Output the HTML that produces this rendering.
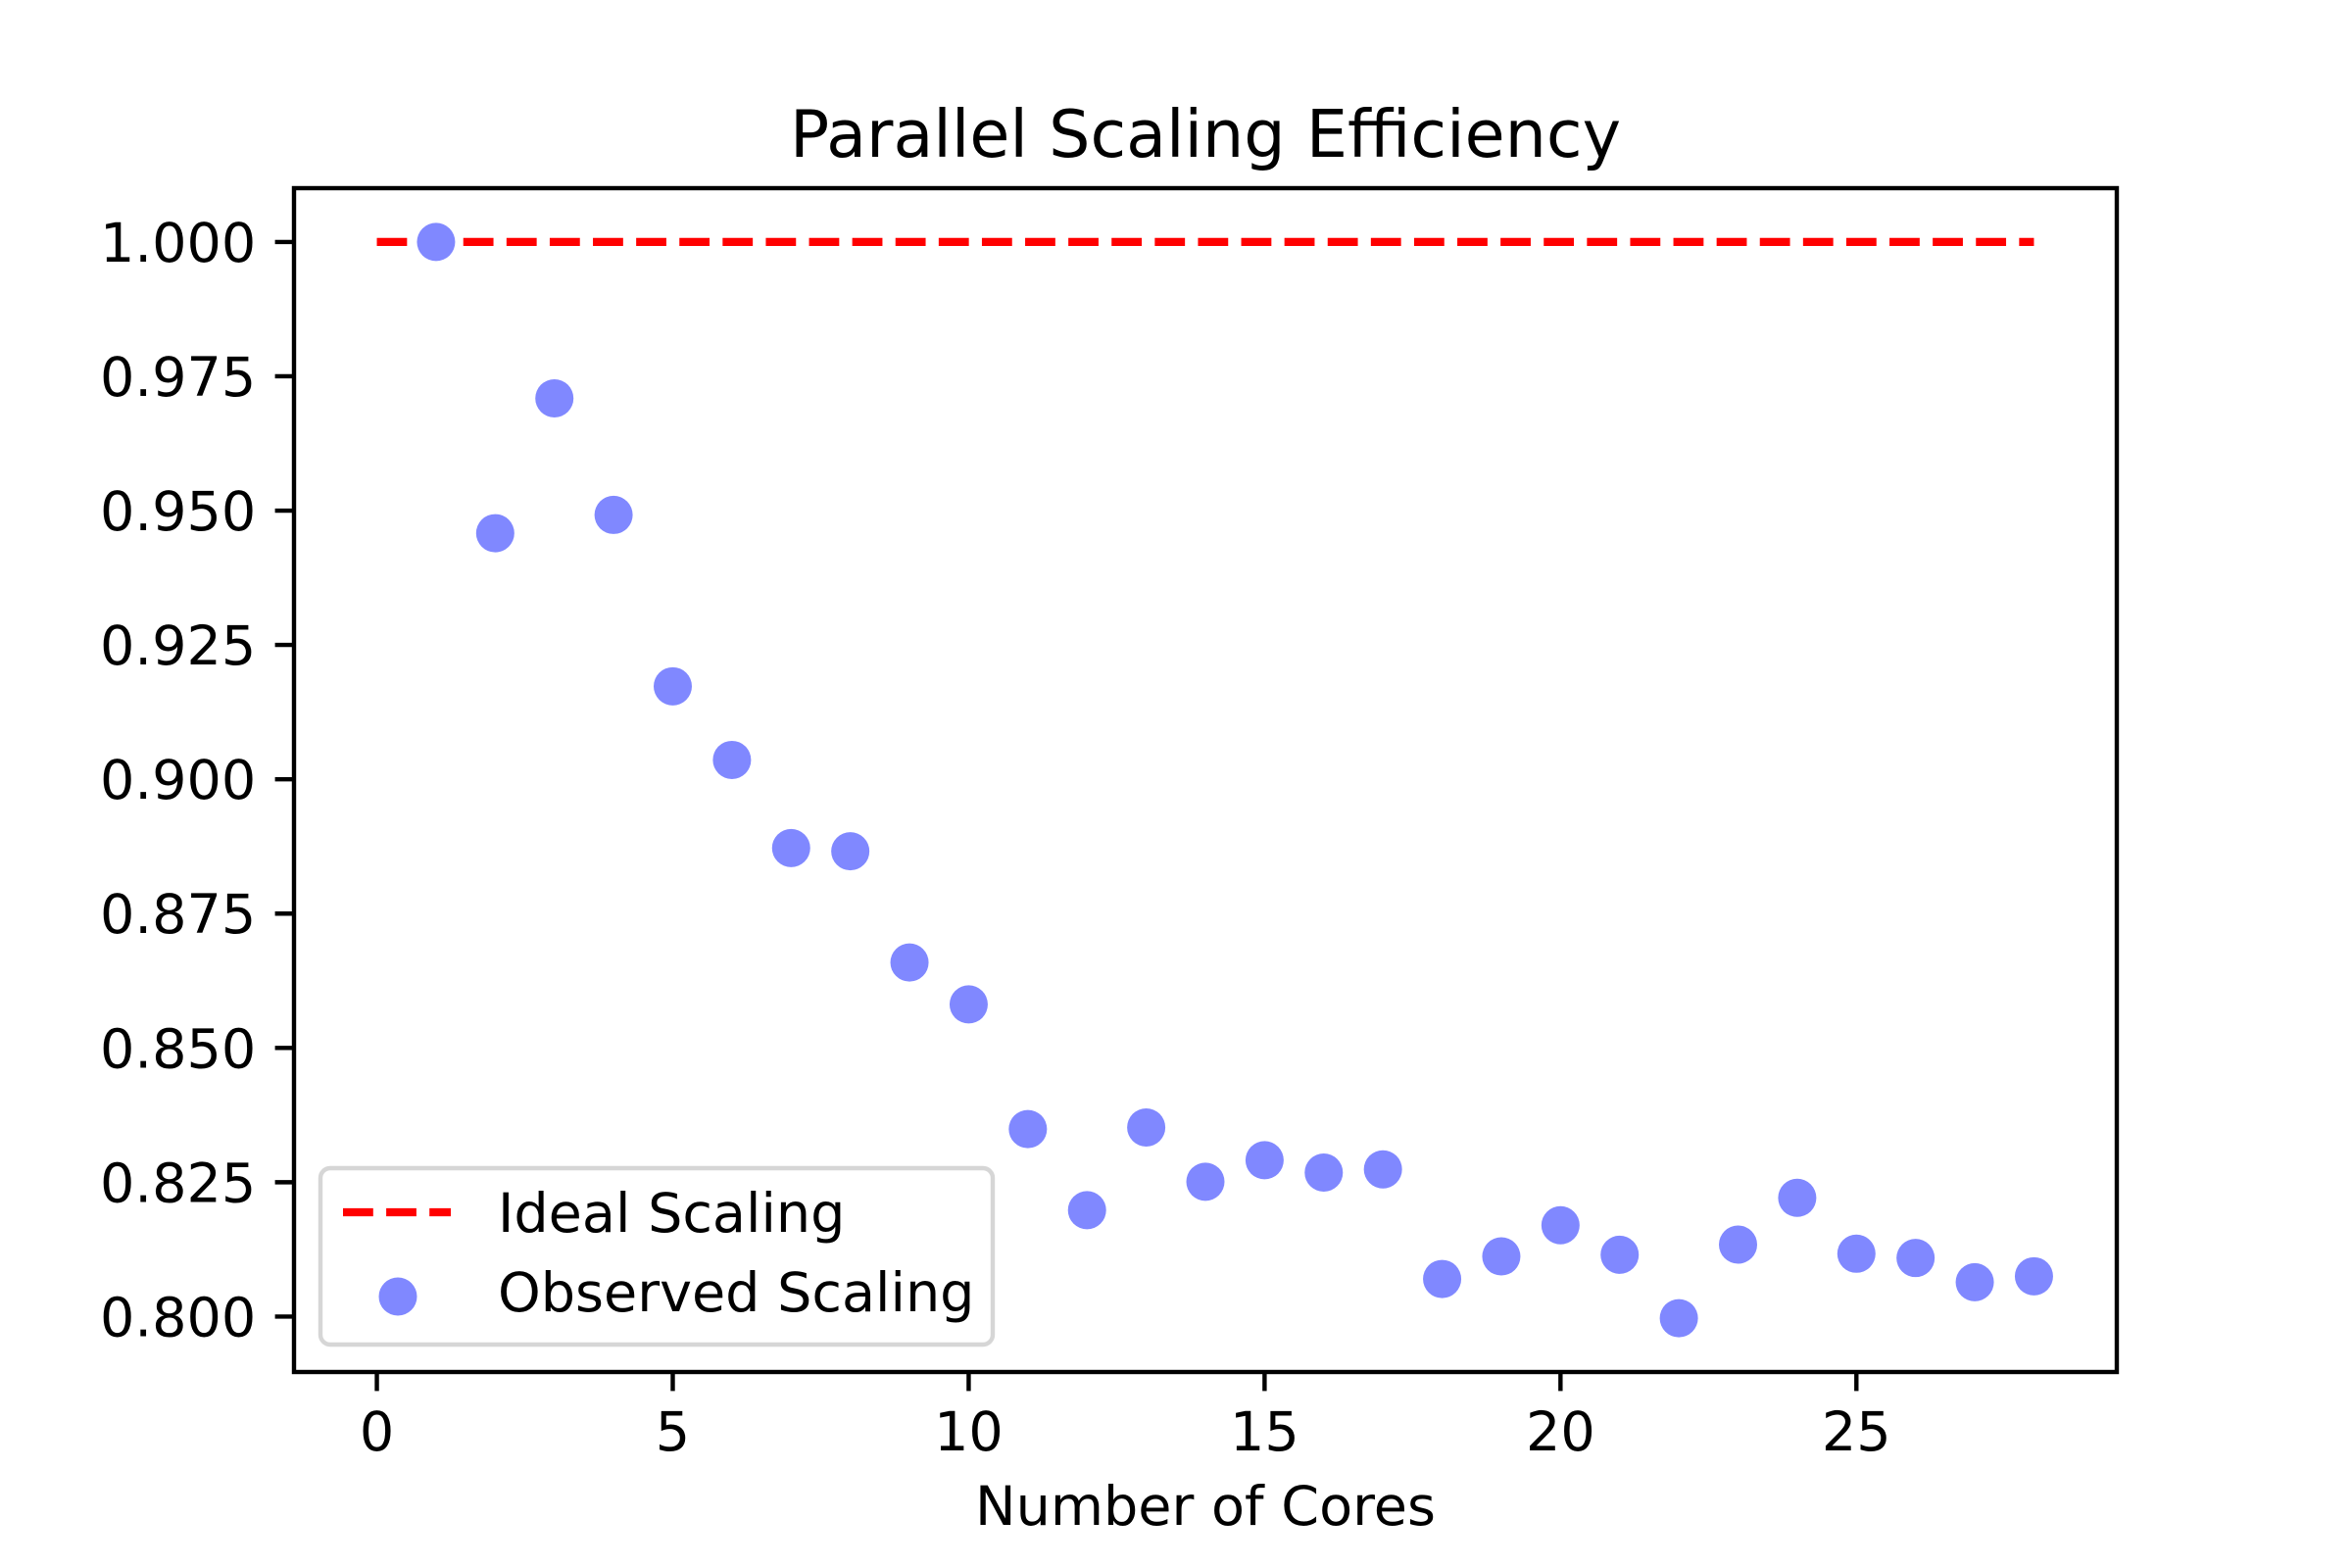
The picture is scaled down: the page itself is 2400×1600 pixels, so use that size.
<!DOCTYPE html>
<html><head><meta charset="utf-8"><style>
html,body{margin:0;padding:0;background:#fff;}
svg{display:block;font-family:"DejaVu Sans","Liberation Sans",sans-serif;}
</style></head><body>
<svg id="chart" width="2400" height="1600" viewBox="0 0 2400 1600">
<rect width="2400" height="1600" fill="#fff"/>
<text x="1230" y="160" font-size="66.7" text-anchor="middle">Parallel Scaling Efficiency</text>
<g id="plot"></g>
<text x="1230" y="1556" font-size="55.6" text-anchor="middle">Number of Cores</text>
</svg>
<script>
const cores = [1,2,3,4,5,6,7,8,9,10,11,12,13,14,15,16,17,18,19,20,21,22,23,24,25,26,27,28];
const efficiency = [1.000,0.9458,0.9709,0.9492,0.9173,0.9036,0.8872,0.8866,0.8659,0.8581,0.8349,0.8198,0.8352,0.8251,0.8291,0.8268,0.8274,0.8070,0.8112,0.8170,0.8115,0.7997,0.8134,0.8221,0.8117,0.8109,0.8064,0.8075];
const idealX = [0,28];
const idealY = [1.0,1.0];
const xTicks = [0,5,10,15,20,25];
const yTicks = [0.800,0.825,0.850,0.875,0.900,0.925,0.950,0.975,1.000];

const L=300,R=2160,T=192,B=1400;
const allX=cores.concat(idealX), allY=efficiency.concat(idealY);
let x0=Math.min(...allX),x1=Math.max(...allX),y0=Math.min(...allY),y1=Math.max(...allY);
const mx=(x1-x0)*0.05,my=(y1-y0)*0.05;
x0-=mx;x1+=mx;y0-=my;y1+=my;
const sx=v=>L+(v-x0)/(x1-x0)*(R-L);
const sy=v=>B-(v-y0)/(y1-y0)*(B-T);
const NS='http://www.w3.org/2000/svg';
const g=document.getElementById('plot');
function mk(tag,attrs,parent){const e=document.createElementNS(NS,tag);for(const k in attrs)e.setAttribute(k,attrs[k]);(parent||g).appendChild(e);return e;}

const il=mk('line',{x1:sx(idealX[0]),y1:sy(idealY[0]),x2:sx(idealX[1]),y2:sy(idealY[1]),stroke:'#ff0000','stroke-width':8.3,'stroke-dasharray':'30.8 13.3'});



cores.forEach((c,i)=>{
  const p=mk('circle',{cx:sx(c),cy:sy(efficiency[i]),r:19.5,fill:'#8088ff'});
  
  
});

const fr=mk('rect',{x:L,y:T,width:R-L,height:B-T,fill:'none',stroke:'#000','stroke-width':4.4});



xTicks.forEach(t=>{
  const x=sx(t);
  const tk=mk('line',{x1:x,y1:B,x2:x,y2:B+19.4,stroke:'#000','stroke-width':4.4});
  
  
  const tx=mk('text',{x:x,y:B+19.4+19.4+41,'font-size':55.6,'text-anchor':'middle'});
  tx.textContent=String(t);
  
  
});
yTicks.forEach(t=>{
  const y=sy(t);
  const tk=mk('line',{x1:L-19.4,y1:y,x2:L,y2:y,stroke:'#000','stroke-width':4.4});
  
  
  const tx=mk('text',{x:L-19.4-19.4,y:y+20,'font-size':55.6,'text-anchor':'end'});
  tx.textContent=t.toFixed(3);
  
  
});

const lg=mk('g',{});


mk('rect',{x:327,y:1192,width:686,height:180,rx:10,fill:'#fff','fill-opacity':0.8,stroke:'#d6d6d6','stroke-width':4.4},lg);
const l1=mk('line',{x1:350,y1:1237,x2:460,y2:1237,stroke:'#ff0000','stroke-width':8.3,'stroke-dasharray':'30.8 13.3'},lg);


const t1=mk('text',{x:508,y:1257,'font-size':55.6},lg);
t1.textContent='Ideal Scaling';


const c2=mk('circle',{cx:406,cy:1323,r:19.5,fill:'#8088ff'},lg);


const t2=mk('text',{x:508,y:1338,'font-size':55.6},lg);
t2.textContent='Observed Scaling';


</script>
</body></html>
